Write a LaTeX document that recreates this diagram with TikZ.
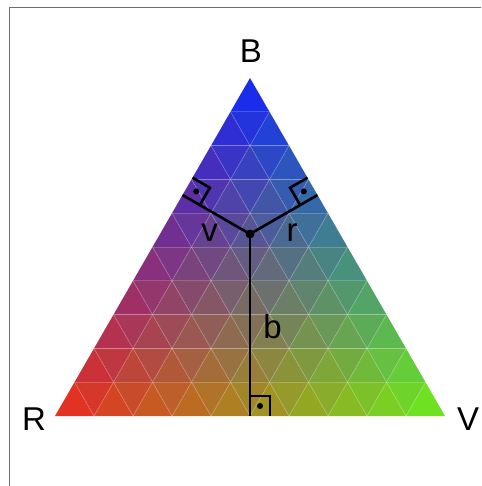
\documentclass[tikz,border=0pt]{standalone}
\usepackage{fontspec}
\setmainfont{Liberation Sans}
\usetikzlibrary{calc}
\definecolor{frame}{RGB}{110,110,110}
\tikzset{
  lbl/.style={font=\fontsize{33}{33}\selectfont, anchor=base, inner sep=0pt},
  geo/.style={line width=2.6pt, black},
  gridline/.style={draw=white, line width=0.8pt, opacity=0.2},
  rmark/.style={line width=2.6pt, black, line join=miter},
}
\begin{document}
\begin{tikzpicture}[x=1pt,y=-1pt]
\useasboundingbox (0,0) rectangle (481,486);
% frame
\draw[frame, line width=1pt] (9,486) -- (9,7.5) -- (481,7.5);
% lattice point macro: row j (0..10), index k (0..j)
\def\LX#1#2{250-19.5*(#1)+39*(#2)}
\def\LY#1{78+33.8*(#1)}
% small triangles
\foreach \j in {0,...,9}{
  % upward triangles
  \foreach \k in {0,...,\j}{
    \pgfmathsetmacro{\wR}{(\j-\k)/9}
    \pgfmathsetmacro{\wV}{\k/9}
    \pgfmathsetmacro{\wB}{(9-\j)/9}
    \pgfmathsetmacro{\cr}{(225*\wR+110*\wV+25*\wB)/255}
    \pgfmathsetmacro{\cg}{(50*\wR+225*\wV+45*\wB)/255}
    \pgfmathsetmacro{\cb}{(35*\wR+35*\wV+235*\wB)/255}
    \definecolor{tc}{rgb}{\cr,\cg,\cb}
    \fill[tc] ({\LX{\j}{\k}},{\LY{\j}}) -- ({\LX{\j+1}{\k}},{\LY{\j+1}}) -- ({\LX{\j+1}{\k+1}},{\LY{\j+1}}) -- cycle;
  }
  % downward triangles
  \ifnum\j>0
  \pgfmathtruncatemacro{\km}{\j-1}
  \foreach \k in {0,...,\km}{
    \pgfmathsetmacro{\wR}{(\j-\k-2/3)/9}
    \pgfmathsetmacro{\wV}{(\k+1/3)/9}
    \pgfmathsetmacro{\wB}{(9-\j+1/3)/9}
    \pgfmathsetmacro{\cr}{(225*\wR+110*\wV+25*\wB)/255}
    \pgfmathsetmacro{\cg}{(50*\wR+225*\wV+45*\wB)/255}
    \pgfmathsetmacro{\cb}{(35*\wR+35*\wV+235*\wB)/255}
    \definecolor{tc}{rgb}{\cr,\cg,\cb}
    \fill[tc] ({\LX{\j}{\k}},{\LY{\j}}) -- ({\LX{\j}{\k+1}},{\LY{\j}}) -- ({\LX{\j+1}{\k+1}},{\LY{\j+1}}) -- cycle;
  }
  \fi
}
% interior grid lines
\foreach \m in {1,...,9}{
  \draw[gridline] ({\LX{\m}{0}},{\LY{\m}}) -- ({\LX{\m}{\m}},{\LY{\m}});
  \draw[gridline] ({\LX{\m}{\m}},{\LY{\m}}) -- ({\LX{10}{\m}},{\LY{10}});
  \draw[gridline] ({\LX{\m}{0}},{\LY{\m}}) -- ({\LX{10}{10-\m}},{\LY{10}});
}
% vertices
\coordinate (Rc) at (55,416);
\coordinate (Vc) at (445,416);
\coordinate (Bc) at (250,78);
\coordinate (P) at (250,234);
\coordinate (Fb) at (250,416);
\coordinate (Fv) at (182.5,195.05);
\coordinate (Fr) at (317.5,195.05);
% perpendiculars
\draw[geo] (P) -- (Fb);
\draw[geo] (P) -- (Fv);
\draw[geo] (P) -- (Fr);
% right-angle marks
\coordinate (bv1) at ($(Fb)!20pt!(Vc)$);
\coordinate (bv3) at ($(Fb)!20pt!(P)$);
\draw[rmark] (bv1) -- ($(bv1)+(bv3)-(Fb)$) -- (bv3);
\fill ($0.5*(bv1)+0.5*(bv3)$) circle (3pt);
\coordinate (vv1) at ($(Fv)!20pt!(Bc)$);
\coordinate (vv3) at ($(Fv)!20pt!(P)$);
\draw[rmark] (vv1) -- ($(vv1)+(vv3)-(Fv)$) -- (vv3);
\fill ($0.5*(vv1)+0.5*(vv3)$) circle (3pt);
\coordinate (rv1) at ($(Fr)!20pt!(Bc)$);
\coordinate (rv3) at ($(Fr)!20pt!(P)$);
\draw[rmark] (rv1) -- ($(rv1)+(rv3)-(Fr)$) -- (rv3);
\fill ($0.5*(rv1)+0.5*(rv3)$) circle (3pt);
\fill (P) circle (4.5pt);
% labels
\node[lbl] (lB) at (251,63) {B};
\node[lbl] (lR) at (34,430) {R};
\node[lbl] (lV) at (468,430) {V};
\node[lbl] (lv) at (209.5,241) {v};
\node[lbl] (lr) at (292,241) {r};
\node[lbl] (lb) at (272.5,338) {b};
\end{tikzpicture}
\end{document}
